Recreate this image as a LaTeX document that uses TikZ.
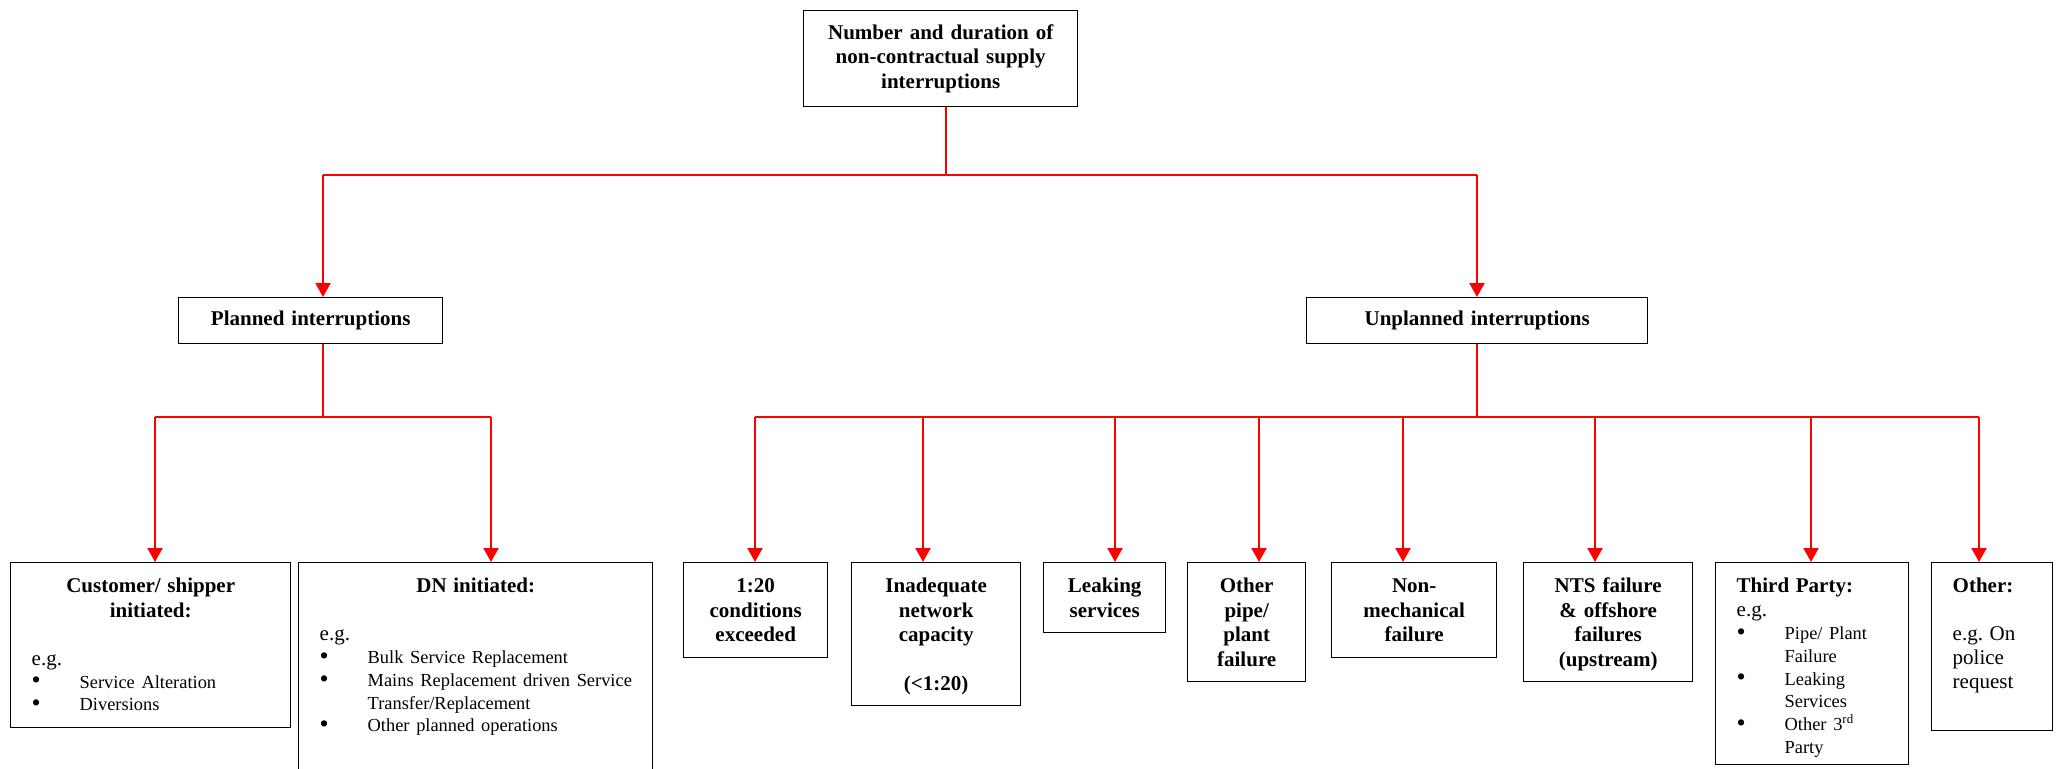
\documentclass[tikz,border=0pt]{standalone}
\usepackage{fontspec}
\setmainfont{Liberation Serif}
\usetikzlibrary{arrows.meta}

\newcommand{\headfont}{\fontsize{10.5}{12.25}\selectfont\bfseries}
\newcommand{\egfont}{\fontsize{10.5}{12}\selectfont}
\newcommand{\bulfont}{\fontsize{9.2}{11.4}\selectfont}
\newcommand{\bul}[1]{\makebox[24pt][l]{\fontsize{13}{11.4}\selectfont\raisebox{-0.4pt}{\textbullet}}\mbox{#1}}
\newcommand{\cont}[1]{\hspace*{24pt}\mbox{#1}}

\begin{document}
\begin{tikzpicture}[x=0.5pt, y=-0.5pt]
\tikzstyle{midStyle}=[draw, line width=0.7pt, anchor=north west, inner sep=0pt, align=center, font=\headfont]
\tikzstyle{boxStyle}=[draw, line width=0.7pt, anchor=north west, inner ysep=0pt, text height=15pt]
\tikzstyle{headStyle}=[boxStyle, inner xsep=0pt, align=center, font=\headfont]
\tikzstyle{listStyle}=[boxStyle, inner xsep=10.5pt]
\tikzstyle{lineStyle}=[red, line width=1pt]
\tikzstyle{arrowStyle}=[lineStyle, -{Triangle[width=7.5pt, length=7pt]}]
\useasboundingbox (0,0) rectangle (2058,768);
\clip (0,0) rectangle (2058,768);

\node[midStyle, text width=137pt, minimum height=48pt] (top) at (803,10) {Number and duration of\\non-contractual supply\\interruptions};
\node[midStyle, text width=132pt, minimum height=23pt] (pl) at (178,297) {Planned interruptions};
\node[midStyle, text width=170.5pt, minimum height=23pt] (up) at (1306,297) {Unplanned interruptions};

% planned causes
\node[listStyle, text width=119pt, text depth=67.5pt] (cust) at (10,562) {{\centering\headfont Customer/ shipper\\initiated:\par}\raggedright\egfont\vspace{12pt}e.g.\par\bulfont\bul{Service Alteration}\par\bul{Diversions}\par};
\node[listStyle, text width=156pt, text depth=105pt] (dn) at (298,562) {{\centering\headfont DN initiated:\par}\raggedright\egfont\vspace{12pt}e.g.\par\bulfont\bul{Bulk Service Replacement}\par\bul{Mains Replacement driven Service}\par\cont{Transfer/Replacement}\par\bul{Other planned operations}\par};

% unplanned causes
\node[headStyle, text width=72pt, text depth=32.5pt] (c120) at (683,562) {1:20\\conditions\\exceeded};
\node[headStyle, text width=84.5pt, text depth=56.5pt] (inad) at (851,562) {Inadequate\\network\\capacity\\[12.25pt](<1:20)};
\node[headStyle, text width=61pt, text depth=20pt] (leak) at (1043,562) {Leaking\\services};
\node[headStyle, text width=59pt, text depth=44.5pt] (opipe) at (1187,562) {Other\\pipe/\\plant\\failure};
\node[headStyle, text width=82.5pt, text depth=32.5pt] (nonmech) at (1331,562) {Non-\\mechanical\\failure};
\node[headStyle, text width=84.5pt, text depth=44.5pt] (nts) at (1523,562) {NTS failure\\\& offshore\\failures\\(upstream)};
\node[listStyle, text width=75.5pt, text depth=86pt] (third) at (1715,562) {\raggedright{\headfont Third Party:\par}\egfont e.g.\par\bulfont\bul{Pipe/ Plant}\par\cont{Failure}\par\bul{Leaking}\par\cont{Services}\par\bul{Other 3\textsuperscript{rd}}\par\cont{Party}\par};
\node[listStyle, text width=39.5pt, text depth=69pt] (other) at (1931,562) {\raggedright{\headfont Other:\par}\egfont\vspace{12pt}e.g.\ On\\police\\request\par};

% connectors
\coordinate (t0) at (946,175);
\coordinate (t1) at (323,175);
\coordinate (t2) at (1477,175);
\draw[lineStyle] (top.south -| t0) -- (t0);
\draw[lineStyle] (t1) -- (t2);
\draw[arrowStyle] (t1) -- (t1 |- pl.north);
\draw[arrowStyle] (t2) -- (t2 |- up.north);

\coordinate (p0) at (323,417);
\coordinate (p1) at (155,417);
\coordinate (p2) at (491,417);
\draw[lineStyle] (pl.south -| p0) -- (p0);
\draw[lineStyle] (p1) -- (p2);
\draw[arrowStyle] (p1) -- (p1 |- cust.north);
\draw[arrowStyle] (p2) -- (p2 |- dn.north);

\coordinate (u0) at (1477,417);
\draw[lineStyle] (up.south -| u0) -- (u0);
\foreach \n/\x in {c120/755,inad/923,leak/1115,opipe/1259,nonmech/1403,nts/1595,third/1811,other/1979}
  \coordinate (d\n) at (\x,417);
\draw[lineStyle] (dc120) -- (dother);
\foreach \n in {c120,inad,leak,opipe,nonmech,nts,third,other}
  \draw[arrowStyle] (d\n) -- (d\n |- \n.north);
\end{tikzpicture}
\end{document}
